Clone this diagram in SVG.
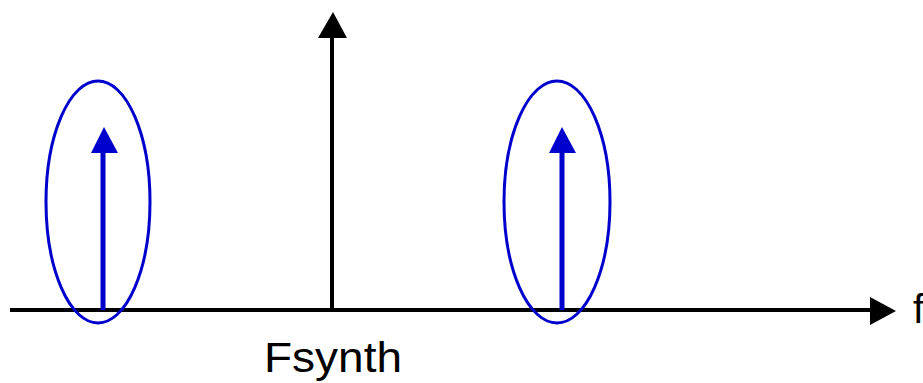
<svg xmlns="http://www.w3.org/2000/svg" width="923" height="383" viewBox="0 0 923 383">
<style>
.axis{stroke:#000;stroke-width:4;fill:none}
.sig{stroke:#0000cc;stroke-width:5;fill:none}
.ring{stroke:#0000cc;stroke-width:3;fill:none}
.lbl{font-family:"Liberation Sans",Arial,sans-serif;fill:#000}
</style>
<rect width="923" height="383" fill="#fff"/>
<g id="connectors">
<line class="axis" x1="10" y1="310" x2="872" y2="310"/>
<polygon points="870,297 896,311 870,325" fill="#000"/>
<line class="axis" x1="332" y1="310" x2="332" y2="36"/>
<polygon points="318,38 333,12 347,38" fill="#000"/>
</g>
<g id="left-tone">
<ellipse class="ring" cx="98" cy="202" rx="52" ry="121"/>
<line class="sig" x1="103" y1="310" x2="103" y2="150"/>
<polygon points="91,153 104,127 118,153" fill="#0000cc"/>
</g>
<g id="right-tone">
<ellipse class="ring" cx="557" cy="202" rx="53" ry="121"/>
<line class="sig" x1="562" y1="310" x2="562" y2="150"/>
<polygon points="549,153 562,127 576,153" fill="#0000cc"/>
</g>
<g id="labels">
<text class="lbl" x="264" y="372" font-size="42" textLength="138" lengthAdjust="spacingAndGlyphs">Fsynth</text>
<text class="lbl" x="913" y="323" font-size="40">f</text>
</g>
</svg>
